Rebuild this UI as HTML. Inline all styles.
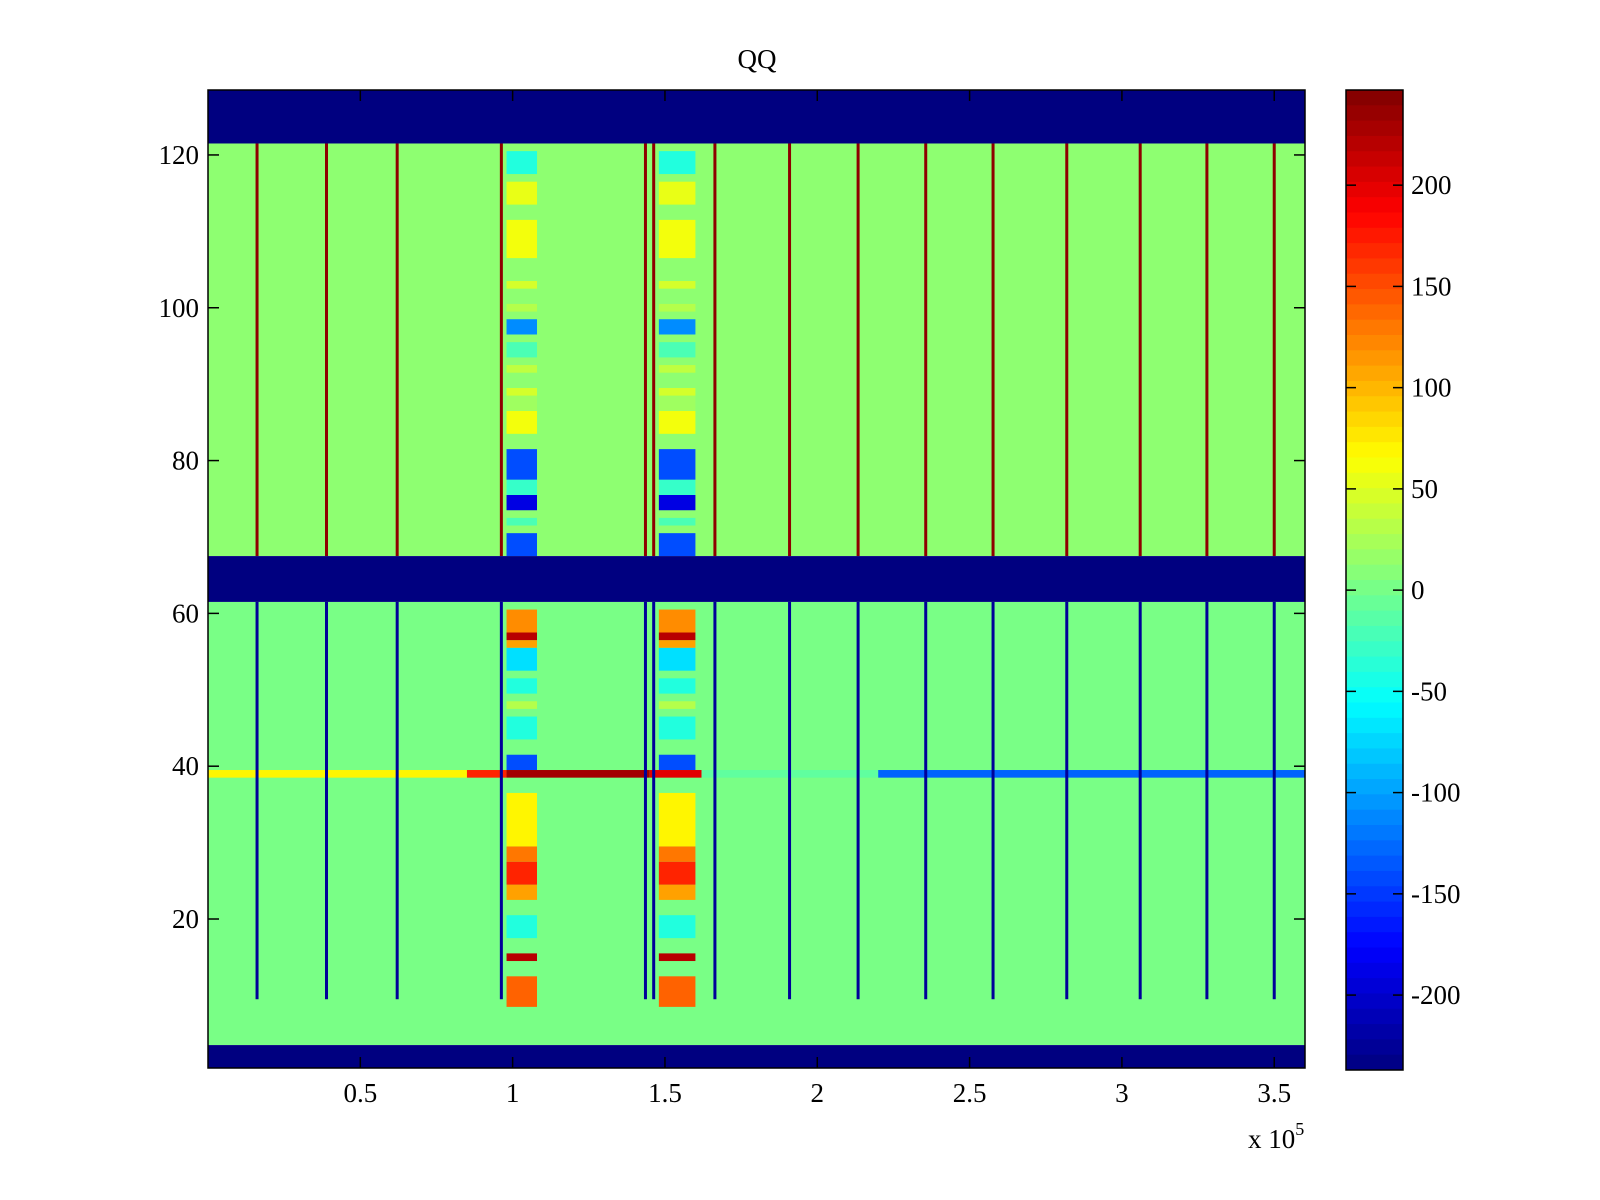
<!DOCTYPE html>
<html><head><meta charset="utf-8"><style>
body{margin:0;background:#fff;width:1600px;height:1200px;overflow:hidden}
svg{display:block}
text{font-family:"Liberation Serif",serif;font-size:27px;fill:#000}
</style></head><body>
<svg id="chart" width="1600" height="1200" xmlns="http://www.w3.org/2000/svg">
<g id="cells"></g>
<g id="axes"></g>
<g id="cbar"></g>
<text x="757" y="68" text-anchor="middle">QQ</text>
<text x="1248" y="1148">x 10<tspan dy="-13" font-size="18">5</tspan></text>
</svg>
<script>
// ---- data ----
const xDomain = [0, 3.601];          // units of 1e5
const yDomain = [0.5, 128.5];
const cDomain = [-237, 247];
const xTicks = [0.5, 1, 1.5, 2, 2.5, 3, 3.5];
const xTickLabels = ["0.5", "1", "1.5", "2", "2.5", "3", "3.5"];
const yTicks = [20, 40, 60, 80, 100, 120];
const cTicks = [-200, -150, -100, -50, 0, 50, 100, 150, 200];
const sections = [[3.5, 61.5, 2], [67.5, 121.5, 12]];       // [rowStart,rowEnd,baseValue]
const sectionLineValue = [-225, 240];
const sectionLineStart = [9.5, 67.5];
const darkBands = [[0.5, 3.5], [61.5, 67.5], [121.5, 128.5]];
const vLinesX = [0.161, 0.389, 0.621, 0.963, 1.436, 1.463, 1.664, 1.909, 2.134, 2.356, 2.577, 2.819, 3.060, 3.279, 3.500];
const colBands = [[0.98, 1.08], [1.48, 1.60]];
const bandRowStart = [9, 15, 18, 23, 25, 28, 30, 40, 44, 48, 50, 53, 56, 57, 58, 68, 72, 74, 76, 78, 84, 87, 89, 92, 94, 97, 100, 103, 107, 114, 118];
const bandRowEnd   = [12, 15, 20, 24, 27, 29, 36, 41, 46, 48, 51, 55, 56, 57, 60, 70, 72, 75, 77, 81, 86, 88, 89, 92, 95, 98, 100, 103, 111, 116, 120];
const bandRowValue = [140, 220, -40, 110, 170, 130, 70, -140, -40, 30, -40, -70, 110, 220, 120, -140, -20, -190, -30, -140, 60, 20, 45, 35, -20, -110, 30, 45, 60, 55, -40];
const row39Start = [0, 0.85, 0.98, 1.45, 1.62, 2.2];
const row39End   = [0.85, 0.98, 1.45, 1.62, 2.2, 3.601];
const row39Value = [70, 170, 230, 200, -10, -130];

// ---- scales ----
const PX0=208, PX1=1305, PY0=90, PY1=1068;
const xs = v => PX0 + (v - xDomain[0]) / (xDomain[1] - xDomain[0]) * (PX1 - PX0);
const ys = v => PY1 - (v - yDomain[0]) / (yDomain[1] - yDomain[0]) * (PY1 - PY0);
const CX0=1346, CX1=1403, CY0=90, CY1=1070;
const cs = v => CY1 - (v - cDomain[0]) / (cDomain[1] - cDomain[0]) * (CY1 - CY0);
function jet(v){
  let t=(v-cDomain[0])/(cDomain[1]-cDomain[0]); t=Math.max(0,Math.min(1,t));
  const f=x=>Math.round(255*Math.max(0,Math.min(1,x)));
  return `rgb(${f(1.5-Math.abs(4*t-3))},${f(1.5-Math.abs(4*t-2))},${f(1.5-Math.abs(4*t-1))})`;
}
const NS="http://www.w3.org/2000/svg";
function rect(g,x0,x1,y0,y1,fill,name){
  const r=document.createElementNS(NS,"rect");
  r.setAttribute("x",Math.min(x0,x1));r.setAttribute("y",Math.min(y0,y1));
  r.setAttribute("width",Math.abs(x1-x0));r.setAttribute("height",Math.abs(y1-y0));
  r.setAttribute("fill",fill);
  
  
  g.appendChild(r);return r;
}
const cells=document.getElementById("cells");
sections.forEach(s=>rect(cells,xs(xDomain[0]),xs(xDomain[1]),ys(s[0]),ys(s[1]),jet(s[2]),"background-section"));
colBands.forEach(b=>{
  bandRowStart.forEach((r0,i)=>{
    rect(cells,xs(b[0]),xs(b[1]),ys(r0-0.5),ys(bandRowEnd[i]+0.5),jet(bandRowValue[i]),"band-cell");
  });
});
row39Start.forEach((s,i)=>rect(cells,xs(s),xs(row39End[i]),ys(38.5),ys(39.5),jet(row39Value[i]),"row-39-segment"));
vLinesX.forEach(x=>{
  sections.forEach((s,si)=>{
    rect(cells,xs(x)-1.5,xs(x)+1.5,ys(sectionLineStart[si]),ys(s[1]),jet(sectionLineValue[si]),"vertical-line");
  });
});
darkBands.forEach(b=>rect(cells,xs(xDomain[0]),xs(xDomain[1]),ys(b[0]),ys(b[1]),jet(cDomain[0]),"empty-band"));

// ---- axes ----
const ax=document.getElementById("axes");
function line(g,x1,y1,x2,y2,name){
  const l=document.createElementNS(NS,"line");
  l.setAttribute("x1",x1);l.setAttribute("y1",y1);l.setAttribute("x2",x2);l.setAttribute("y2",y2);
  l.setAttribute("stroke","#000");l.setAttribute("stroke-width","1.5");
  
  
  g.appendChild(l);
}
function text(g,x,y,s,anchor,name){
  const t=document.createElementNS(NS,"text");
  t.setAttribute("x",x);t.setAttribute("y",y);t.setAttribute("text-anchor",anchor);t.textContent=s;
  
  
  g.appendChild(t);
}
const box=rect(ax,PX0,PX1,PY0,PY1,"none","plot-frame");box.setAttribute("stroke","#000");box.setAttribute("stroke-width","1.5");
xTicks.forEach((v,i)=>{
  line(ax,xs(v),PY1,xs(v),PY1-11,"x-tick");line(ax,xs(v),PY0,xs(v),PY0+11,"x-tick-top");
  text(ax,xs(v),1102,xTickLabels[i],"middle","x-tick-label");
});
yTicks.forEach(v=>{
  line(ax,PX0,ys(v),PX0+11,ys(v),"y-tick");line(ax,PX1,ys(v),PX1-11,ys(v),"y-tick-right");
  text(ax,199,ys(v)+9,String(v),"end","y-tick-label");
});

// ---- colorbar ----
const cb=document.getElementById("cbar");
const nSteps=64;
for(let i=0;i<nSteps;i++){
  const v0=cDomain[0]+(cDomain[1]-cDomain[0])*i/nSteps, v1=cDomain[0]+(cDomain[1]-cDomain[0])*(i+1)/nSteps;
  rect(cb,CX0,CX1,cs(v0),cs(v1)-0.5,jet((v0+v1)/2),"colorbar-step");
}
const cbox=rect(cb,CX0,CX1,CY0,CY1,"none","colorbar-frame");cbox.setAttribute("stroke","#000");cbox.setAttribute("stroke-width","1.5");
cTicks.forEach(v=>{
  line(cb,CX1,cs(v),CX1-10,cs(v),"colorbar-tick");line(cb,CX0,cs(v),CX0+10,cs(v),"colorbar-tick-left");
  text(cb,1411,cs(v)+9,String(v),"start","colorbar-tick-label");
});
</script>
</body></html>
